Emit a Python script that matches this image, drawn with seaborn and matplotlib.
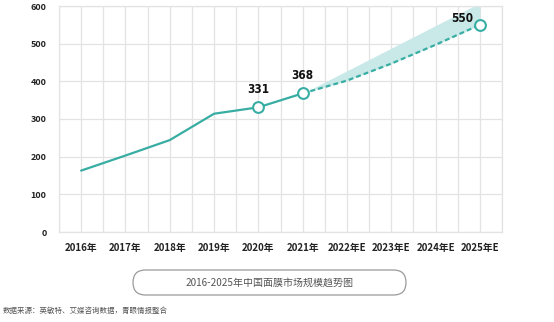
import matplotlib
matplotlib.use("Agg")
import matplotlib.pyplot as plt
import seaborn as sns
import pandas as pd
import numpy as np
from matplotlib.patches import FancyBboxPatch

categories = ["2016年", "2017年", "2018年", "2019年", "2020年", "2021年",
              "2022年E", "2023年E", "2024年E", "2025年E"]
actual_values = [163, 203, 244, 314, 331, 368]
forecast_values = [368, 402, 447, 497, 550]
upper_band = [368, 428, 488, 548, 608]
labels = {4: "331", 5: "368", 9: "550"}
y_ticks = [0, 100, 200, 300, 400, 500, 600]

sns.set_theme(style="white")
plt.rcParams['font.family'] = ['Noto Sans CJK SC', 'DejaVu Sans']

teal = "#38ada3"
grid = "#e3e3e3"

fig = plt.figure(figsize=(5.54, 3.22), dpi=100)
ax = fig.add_axes([59/554, 1 - 232/322, (502-59)/554, (232-6)/322])

df_a = pd.DataFrame({"x": np.arange(len(actual_values)), "y": actual_values})
f_idx = np.arange(len(actual_values) - 1, len(categories))
df_f = pd.DataFrame({"x": f_idx, "y": forecast_values})

ax.fill_between(f_idx, forecast_values, upper_band, color="#c9e9e8", lw=0, zorder=1)
sns.lineplot(data=df_a, x="x", y="y", ax=ax, color=teal, lw=1.6, zorder=3)
sns.lineplot(data=df_f, x="x", y="y", ax=ax, color=teal, lw=1.6, zorder=3)
ax.lines[-1].set_linestyle((0, (2.2, 1.4)))

all_vals = actual_values + forecast_values[1:]
mx = list(labels.keys())
ax.scatter(mx, [all_vals[i] for i in mx], s=60, facecolor="white",
           edgecolor=teal, linewidths=1.5, zorder=5, clip_on=False)
for i, t in labels.items():
    off = (-13, 0) if i == 9 else (0, 8.5)
    ax.annotate(t, (i, all_vals[i]), xytext=off, textcoords="offset points",
                ha="center", va="bottom", fontsize=8.5, fontweight="bold",
                family="DejaVu Sans", fontstretch="condensed", color="#111")

ax.set_xlim(-0.5, 9.5)
ax.set_ylim(0, 600)
ax.set_xticks(np.arange(len(categories)))
ax.set_xticklabels(categories, fontsize=7, fontweight="bold", color="#222")
ax.set_xticks(np.arange(-0.5, 10, 1), minor=True)
ax.set_yticks(y_ticks)
ax.set_yticklabels([str(v) for v in y_ticks], fontsize=6.5, fontweight="bold", color="#222")
ax.grid(True, which="both", axis="x", color=grid, lw=0.9)
ax.grid(True, which="major", axis="y", color=grid, lw=0.9)
ax.tick_params(axis="x", which="both", length=0, pad=8)
ax.tick_params(axis="y", which="both", length=0, pad=9)
for s in ax.spines.values():
    s.set_color(grid)
    s.set_linewidth(0.9)
ax.set_xlabel("")
ax.set_ylabel("")

ov = fig.add_axes([0, 0, 1, 1], zorder=-1)
ov.set_xlim(0, 554)
ov.set_ylim(322, 0)
ov.axis("off")
box = FancyBboxPatch((133, 270), 406 - 133, 25,
                     boxstyle="round,pad=0,rounding_size=12.5",
                     facecolor="white", edgecolor="#9a9a9a", lw=0.9)
ov.add_patch(box)
ov.text(270, 282.5, "2016-2025年中国面膜市场规模趋势图",
        ha="center", va="center", fontsize=7.2, color="#555555")
ov.text(3, 311, "数据来源：英敏特、艾媒咨询数据，青眼情报整合",
        ha="left", va="center", fontsize=5.4, color="#555555")

fig.savefig("out.png", dpi=100)
